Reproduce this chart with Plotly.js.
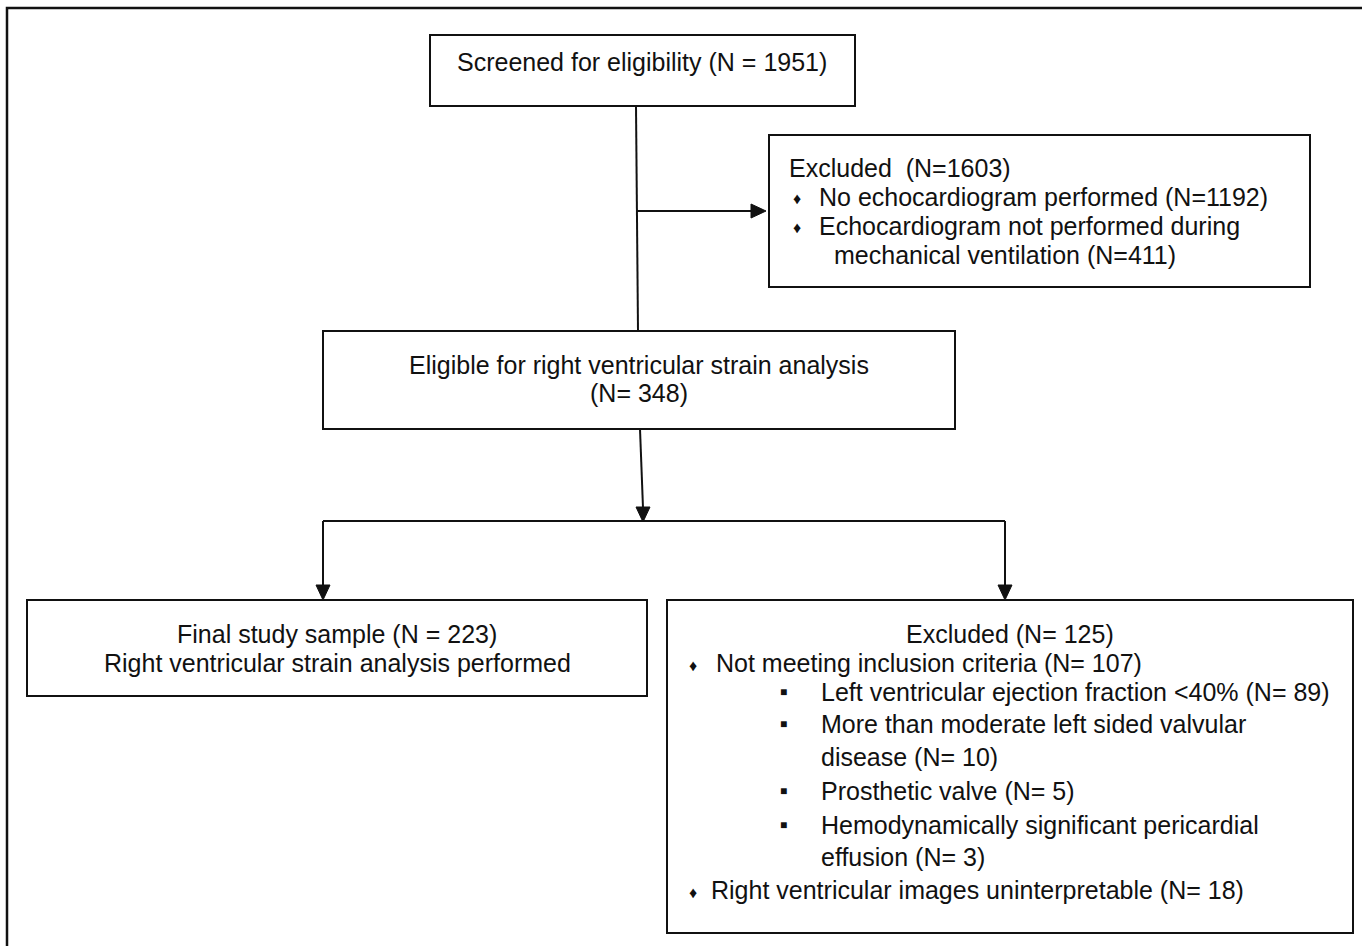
<!DOCTYPE html>
<html>
<head>
<meta charset="utf-8">
<script src="https://cdn.plot.ly/plotly-3.0.1.min.js"></script>
<style>html,body{margin:0;padding:0;background:#fff;}#chart{width:1362px;height:946px;}</style>
</head>
<body>
<div id="chart"></div>
<script>
// ---- content ----
const screenedLabel = "Screened for eligibility";
const screenedN = 1951;
const excluded1Label = "Excluded";
const excluded1N = 1603;
const excluded1Items = ["No echocardiogram performed", "Echocardiogram not performed during"];
const excluded1ItemsCont = ["", "mechanical ventilation"];
const excluded1ItemN = [1192, 411];
const eligibleLabel = ["Eligible for right ventricular strain analysis"];
const eligibleN = 348;
const finalLabel = "Final study sample";
const finalN = 223;
const finalSub = "Right ventricular strain analysis performed";
const excluded2Label = "Excluded";
const excluded2N = 125;
const notMeetingLabel = "Not meeting inclusion criteria";
const notMeetingN = 107;
const subCriteria = [
  ["Left ventricular ejection fraction <40%"],
  ["More than moderate left sided valvular", "disease"],
  ["Prosthetic valve"],
  ["Hemodynamically significant pericardial", "effusion"]
];
const subCriteriaN = [89, 10, 5, 3];
const uninterpLabel = "Right ventricular images uninterpretable";
const uninterpN = 18;

// ---- drawing ----
const FONT = "Liberation Sans, Arial, sans-serif";
const FS = 25;
const LC = "#111";
const shapes = [];
const ann = [];

function rect(x0, y0, x1, y1, w) {
  shapes.push({type: "rect", xref: "x", yref: "y", x0, y0, x1, y1,
    line: {color: LC, width: w || 2}, fillcolor: "rgba(0,0,0,0)"});
}
function line(x0, y0, x1, y1, w) {
  shapes.push({type: "line", xref: "x", yref: "y", x0, y0, x1, y1, line: {color: LC, width: w || 2}});
}
function triDown(x, y) {
  shapes.push({type: "path", xref: "x", yref: "y",
    path: `M ${x - 7} ${y - 15} L ${x + 7} ${y - 15} L ${x} ${y} Z`,
    fillcolor: LC, line: {color: LC, width: 1}});
}
function triRight(x, y) {
  shapes.push({type: "path", xref: "x", yref: "y",
    path: `M ${x - 15} ${y - 7} L ${x - 15} ${y + 7} L ${x} ${y} Z`,
    fillcolor: LC, line: {color: LC, width: 1}});
}
function text(x, y, t, anchor, size) {
  ann.push({xref: "x", yref: "y", x, y, text: t, showarrow: false,
    xanchor: anchor || "center", yanchor: "middle",
    font: {family: FONT, size: size || FS, color: "#111"}});
}

// outer frame
rect(7, 8, 1380, 960, 2.5);

// box 1
rect(430, 35, 855, 106);
text(642, 62, `${screenedLabel} (N = ${screenedN})`);

// connector 1 -> 3 and side arrow
line(636, 106, 638, 331);
line(637, 211, 752, 211);
triRight(766, 211);

// box 2
rect(769, 135, 1310, 287);
text(787, 168, `${excluded1Label}  (N=${excluded1N})`, "left");
const ex1Y = [197, 226];
excluded1Items.forEach((it, i) => {
  text(797, ex1Y[i] + 1, "♦", "center", 16);
  const cont = excluded1ItemsCont[i];
  if (cont) {
    text(817, ex1Y[i], it, "left");
    text(832, ex1Y[i] + 29, `${cont} (N=${excluded1ItemN[i]})`, "left");
  } else {
    text(817, ex1Y[i], `${it} (N=${excluded1ItemN[i]})`, "left");
  }
});

// box 3
rect(323, 331, 955, 429);
text(639, 365, eligibleLabel[0]);
text(639, 393, `(N= ${eligibleN})`);

// connector 3 -> split
line(640, 429, 643, 508);
triDown(643, 522);
line(323, 521, 1005, 521);
line(323, 521, 323, 586);
triDown(323, 600);
line(1005, 521, 1005, 586);
triDown(1005, 600);

// box 4
rect(27, 600, 647, 696);
text(337, 634, `${finalLabel} (N = ${finalN})`);
text(337, 663, finalSub);

// box 5
rect(667, 600, 1353, 933);
text(1010, 634, `${excluded2Label} (N= ${excluded2N})`);
text(693, 665, "♦", "center", 16);
text(714, 663, `${notMeetingLabel} (N= ${notMeetingN})`, "left");
const subY = [[692], [724, 757], [791], [825, 857]];
subCriteria.forEach((lines, i) => {
  text(783, subY[i][0], "■", "center", 12);
  lines.forEach((l, j) => {
    const last = j === lines.length - 1;
    text(819, subY[i][j], last ? `${l} (N= ${subCriteriaN[i]})` : l, "left");
  });
});
text(693, 892, "♦", "center", 16);
text(709, 890, `${uninterpLabel} (N= ${uninterpN})`, "left");

Plotly.newPlot("chart", [], {
  width: 1362, height: 946,
  margin: {l: 0, r: 0, t: 0, b: 0},
  paper_bgcolor: "#fff", plot_bgcolor: "#fff",
  xaxis: {range: [0, 1362], visible: false, fixedrange: true},
  yaxis: {range: [946, 0], visible: false, fixedrange: true},
  shapes, annotations: ann, showlegend: false
}, {displayModeBar: false, staticPlot: true});
</script>
</body>
</html>
